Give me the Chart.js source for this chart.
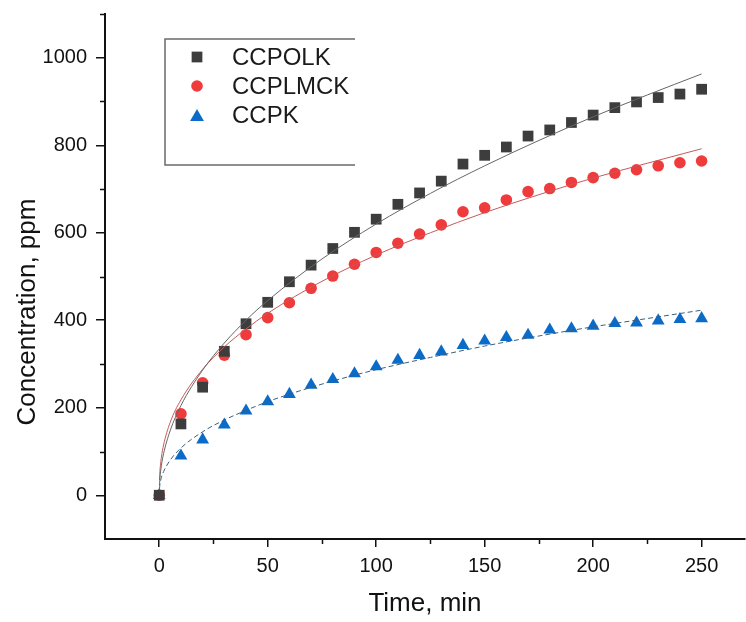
<!DOCTYPE html>
<html>
<head>
<meta charset="utf-8">
<script src="https://cdn.jsdelivr.net/npm/chart.js@4/dist/chart.umd.min.js"></script>
<style>
  html, body { margin: 0; padding: 0; background: #ffffff; }
  #wrap { width: 746px; height: 622px; position: relative; }
</style>
</head>
<body>
<div id="wrap"><canvas id="c" width="746" height="622"></canvas></div>
<script>
// ---- data ----
const seriesNames = ['CCPOLK', 'CCPLMCK', 'CCPK'];
const time = [0, 10, 20, 30, 40, 50, 60, 70, 80, 90, 100, 110, 120, 130, 140, 150, 160, 170, 180, 190, 200, 210, 220, 230, 240, 250];
const ccpolk = [0, 163, 247, 329, 392, 441, 488, 526, 564, 601, 631, 665, 691, 718, 757, 777, 796, 821, 835, 852, 869, 886, 899, 909, 917, 928];
const ccplmck = [0, 186, 257, 320, 367, 406, 440, 473, 501, 528, 555, 576, 597, 618, 648, 657, 675, 694, 701, 715, 726, 736, 744, 753, 760, 764];
const ccpk = [0, 90, 127, 161, 193, 214, 231, 252, 265, 278, 294, 309, 320, 328, 343, 353, 361, 366, 378, 381, 387, 393, 394, 399, 402, 404];

// fitted curves
const fitTime = [0.1, 0.3, 1, 2, 5, 10, 20, 30, 40, 50, 75, 100, 125, 150, 175, 200, 225, 250];
const fitPolk = [22, 38, 68, 95, 147, 205, 286, 348, 400, 445, 540, 620, 690, 753, 811, 865, 915, 963];
const fitPlmck = [35, 54, 87, 115, 166, 218, 288, 339, 380, 416, 489, 549, 600, 646, 687, 725, 759, 792];
const fitPk = [15, 24, 41, 54, 80, 108, 145, 172, 194, 214, 254, 287, 315, 341, 364, 385, 404, 423];

const xMajorTicks = [0, 50, 100, 150, 200, 250];
const xMinorTicks = [25, 75, 125, 175, 225];
const yMajorTicks = [0, 200, 400, 600, 800, 1000];
const yMinorTicks = [100, 300, 500, 700, 900, 1100];

const xTitle = 'Time, min';
const yTitle = 'Concentration, ppm';

// ---- styles ----
const FONT = "'Liberation Sans', Arial, sans-serif";
const colSquare = '#3d3d3d';
const colCircle = '#ef3b3b';
const colTri = '#0b6bc8';

const pts = (xs, ys) => xs.map((x, i) => ({ x: x, y: ys[i] }));

const datasets = [
  { label: 'fit1', data: pts(fitTime, fitPolk), showLine: true, borderColor: '#666666', borderWidth: 1, pointRadius: 0, cubicInterpolationMode: 'monotone', order: 1 },
  { label: 'fit2', data: pts(fitTime, fitPlmck), showLine: true, borderColor: '#c55a5a', borderWidth: 1, pointRadius: 0, cubicInterpolationMode: 'monotone', order: 1 },
  { label: 'fit3', data: pts(fitTime, fitPk), showLine: true, borderColor: '#3b5f78', borderWidth: 1, borderDash: [5, 3], pointRadius: 0, cubicInterpolationMode: 'monotone', order: 1 },
  { label: seriesNames[0], data: pts(time, ccpolk), showLine: false, pointStyle: 'rect', pointRadius: 7.6, backgroundColor: colSquare, borderColor: colSquare, borderWidth: 0, order: 2 },
  { label: seriesNames[1], data: pts(time, ccplmck), showLine: false, pointStyle: 'circle', pointRadius: 5.8, backgroundColor: colCircle, borderColor: colCircle, borderWidth: 0, order: 2 },
  { label: seriesNames[2], data: pts(time, ccpk), showLine: false, pointStyle: 'triangle', pointRadius: 7.4, backgroundColor: colTri, borderColor: colTri, borderWidth: 0, order: 2 }
];

const minorTickPlugin = {
  id: 'minorTicks',
  afterDraw(chart) {
    const ctx = chart.ctx;
    const xs = chart.scales.x, ys = chart.scales.y;
    ctx.save();
    ctx.strokeStyle = '#111';
    ctx.lineWidth = 1.5;
    ctx.beginPath();
    xMinorTicks.forEach(v => {
      const px = Math.round(xs.getPixelForValue(v)) + 0.5;
      ctx.moveTo(px, xs.top);
      ctx.lineTo(px, xs.top + 5);
    });
    yMinorTicks.forEach(v => {
      const py = Math.round(ys.getPixelForValue(v)) + 0.5;
      ctx.moveTo(ys.right, py);
      ctx.lineTo(ys.right - 5, py);
    });
    ctx.stroke();
    // y axis title (placed lower than the axis centre, as in the reference)
    ctx.translate(28, 312);
    ctx.rotate(-Math.PI / 2);
    ctx.fillStyle = '#111';
    ctx.font = '26px ' + FONT;
    ctx.textAlign = 'center';
    ctx.textBaseline = 'middle';
    ctx.fillText(yTitle, 0, 0);
    ctx.restore();
  }
};

const legendPlugin = {
  id: 'boxLegend',
  afterDraw(chart) {
    const ctx = chart.ctx;
    const L = 165, T = 39, R = 355, B = 165;
    ctx.save();
    ctx.strokeStyle = '#6a6a6a';
    ctx.lineWidth = 1.5;
    ctx.beginPath();
    ctx.moveTo(R, T); ctx.lineTo(L, T); ctx.lineTo(L, B); ctx.lineTo(R, B);
    ctx.stroke();
    const marks = [
      { style: 'rect', r: 7.6, col: colSquare },
      { style: 'circle', r: 5.8, col: colCircle },
      { style: 'triangle', r: 8, col: colTri }
    ];
    const rowY = [57, 86, 115];
    ctx.font = '24px ' + FONT;
    ctx.textBaseline = 'middle';
    ctx.textAlign = 'left';
    seriesNames.forEach((name, i) => {
      ctx.fillStyle = marks[i].col;
      ctx.strokeStyle = marks[i].col;
      Chart.helpers.drawPoint(ctx, { pointStyle: marks[i].style, radius: marks[i].r, rotation: 0, borderWidth: 0 }, 197, rowY[i] + (marks[i].style === 'triangle' ? 2 : 0));
      ctx.fillStyle = '#1a1a1a';
      ctx.fillText(name, 232, rowY[i] + 1);
    });
    ctx.restore();
  }
};

new Chart(document.getElementById('c'), {
  type: 'scatter',
  data: { datasets: datasets },
  plugins: [minorTickPlugin, legendPlugin],
  options: {
    responsive: false,
    animation: false,
    events: [],
    layout: { autoPadding: false, padding: { top: 14, right: 1, left: 0, bottom: 0 } },
    plugins: { legend: { display: false }, tooltip: { enabled: false } },
    scales: {
      x: {
        type: 'linear',
        min: -25,
        max: 270,
        afterBuildTicks: (s) => { s.ticks = xMajorTicks.map(v => ({ value: v })); },
        afterFit: (s) => { s.height = 83; s.paddingLeft = 0; s.paddingRight = 0; },
        grid: { drawOnChartArea: false, drawTicks: true, tickLength: 8, color: '#111', lineWidth: 1.5 },
        border: { display: true, color: '#111', width: 2 },
        ticks: { color: '#111', font: { family: FONT, size: 20 }, padding: 7, maxRotation: 0, callback: (v) => String(v) },
        title: { display: true, text: xTitle, color: '#111', font: { family: FONT, size: 26 }, padding: { top: 0, bottom: 3 } }
      },
      y: {
        type: 'linear',
        min: -100,
        max: 1100,
        afterBuildTicks: (s) => { s.ticks = yMajorTicks.map(v => ({ value: v })); },
        afterFit: (s) => { s.width = 105; s.paddingTop = 0; s.paddingBottom = 0; },
        grid: { drawOnChartArea: false, drawTicks: true, tickLength: 9, color: '#111', lineWidth: 1.5 },
        border: { display: true, color: '#111', width: 2 },
        ticks: { color: '#111', font: { family: FONT, size: 20 }, padding: 9, callback: (v) => String(v) },
        title: { display: false }
      }
    }
  }
});
</script>
</body>
</html>
